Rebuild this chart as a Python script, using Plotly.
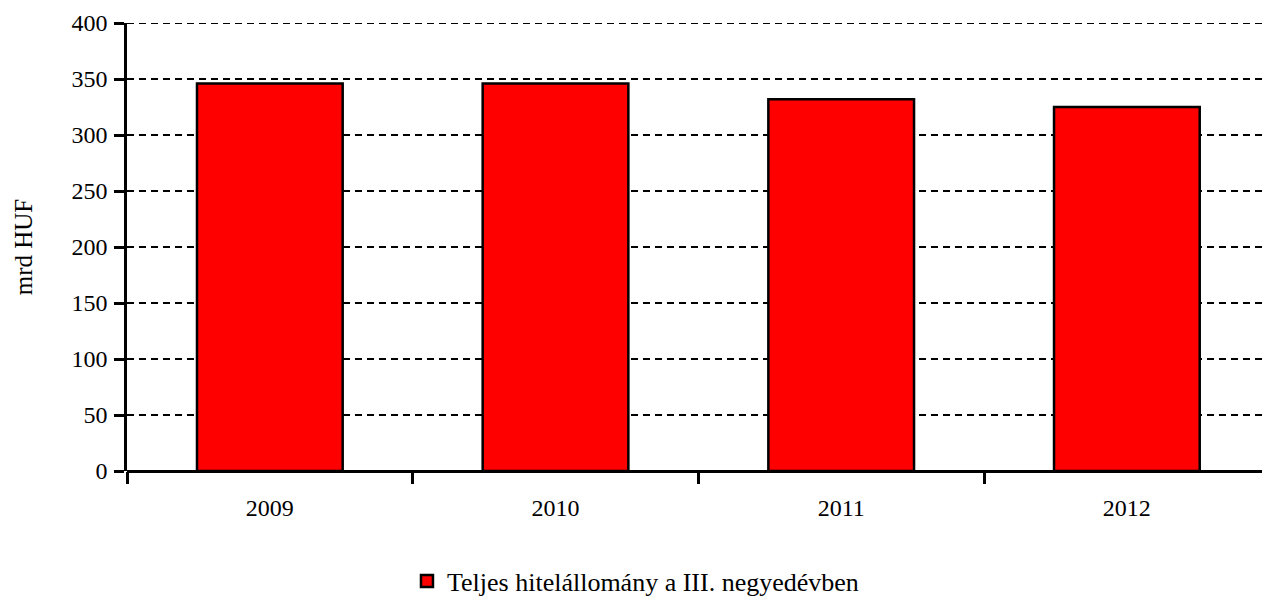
import plotly.graph_objects as go

categories = ["2009", "2010", "2011", "2012"]
values = [346, 346, 332, 325]
series_name = "Teljes hitelállomány a III. negyedévben"
y_ticks = [0, 50, 100, 150, 200, 250, 300, 350, 400]

fig = go.Figure()
fig.add_trace(go.Bar(
    x=categories, y=values, name=series_name,
    marker=dict(color="#ff0000", line=dict(color="black", width=2.5)),
    showlegend=True,
))

fig.add_shape(type="line", xref="paper", yref="y", x0=0, x1=1, y0=400, y1=400,
              line=dict(color="black", width=2, dash="7px,5px"))

fig.update_layout(
    width=1262, height=601,
    margin=dict(l=127, r=0, t=23, b=130, autoexpand=False),
    plot_bgcolor="white", paper_bgcolor="white",
    font=dict(family="Liberation Serif, Times New Roman, serif", size=24, color="black"),
    bargap=0.49,
    showlegend=True,
    legend=dict(orientation="h", x=0.448, xanchor="center", y=-0.246, yanchor="middle",
                font=dict(size=26)),
    xaxis=dict(
        type="category", tickson="boundaries", ticks="outside", ticklen=12,
        tickwidth=2.5, tickcolor="black", showline=False, showgrid=False,
        range=[-0.5, 3.473], automargin=False, ticklabelstandoff=20,
    ),
    yaxis=dict(
        range=[0, 400], tickvals=y_ticks, ticks="outside", ticklen=10, tickwidth=2.5,
        tickcolor="black", showline=True, linecolor="black", linewidth=2.5,
        showgrid=True, gridcolor="black", gridwidth=2.2, griddash="7px,5px",
        zeroline=True, zerolinecolor="black", zerolinewidth=2.5, automargin=False,
        ticklabelstandoff=2,
        title=dict(text="mrd HUF", standoff=32, font=dict(size=25)),
    ),
)

fig.write_html(
    "out.html",
    config={"displayModeBar": False},
    post_script="document.body.style.margin='0';document.body.style.overflow='hidden';",
)
